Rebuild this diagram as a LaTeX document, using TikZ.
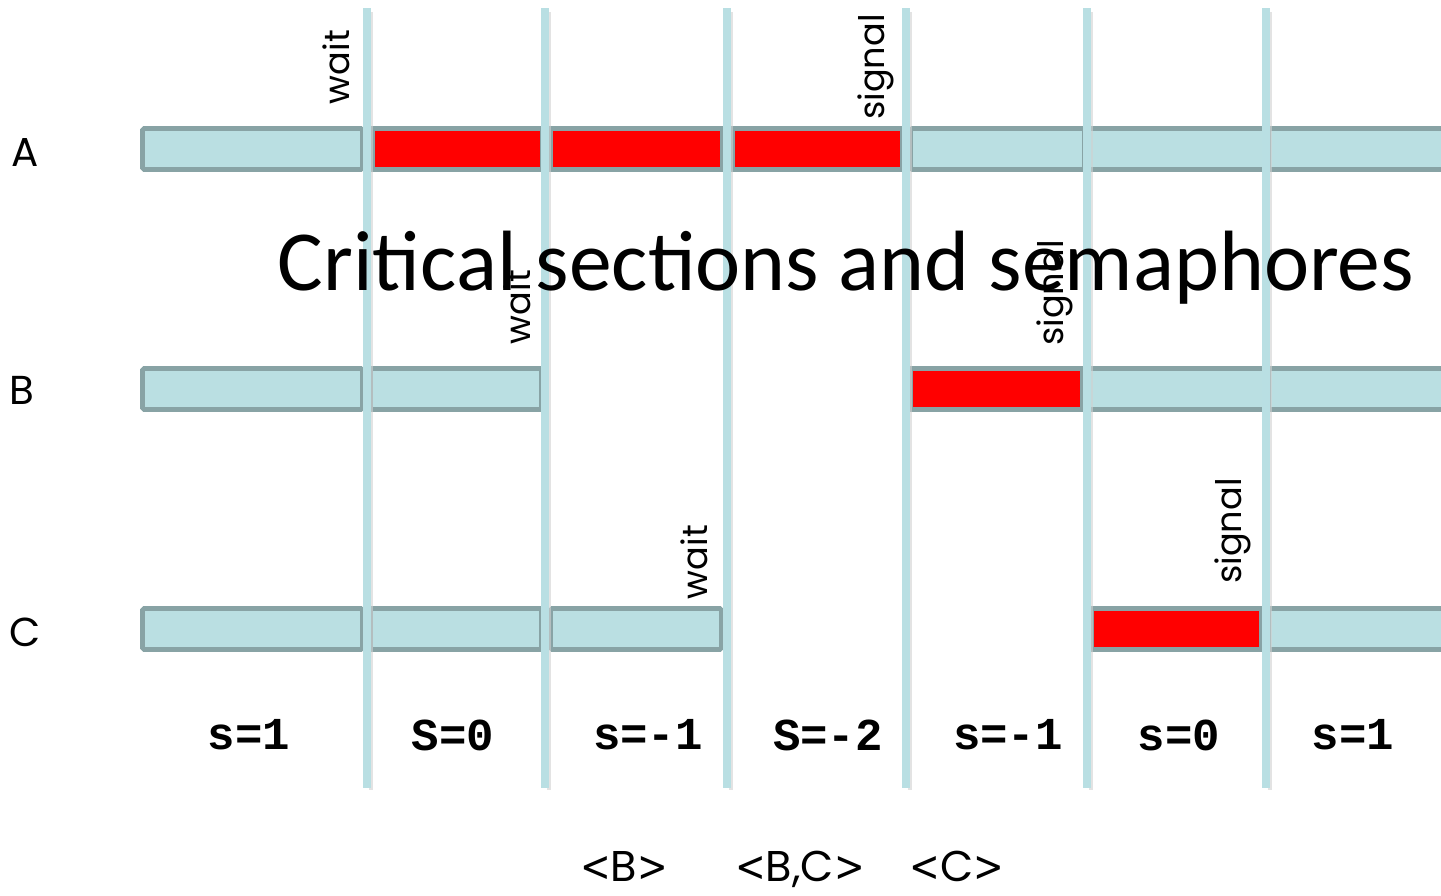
\documentclass[tikz,border=0pt]{standalone}
\usepackage{fontspec}
\setmainfont{Carlito}
\newfontfamily\geo{Poppins}
\newfontfamily\brk{DejaVu Sans}[FakeStretch=0.85]
\newfontfamily\mono{Liberation Mono}
\newcommand{\qlt}{{\brk<}}
\newcommand{\qgt}{{\brk>}}
\definecolor{laneblue}{HTML}{BADFE2}
\definecolor{laneedge}{HTML}{88A3A5}
\definecolor{critred}{HTML}{FF0000}
\definecolor{tickblue}{HTML}{B9DFE3}
\begin{document}
\begin{tikzpicture}[x=0.02cm,y=-0.02cm,
  idle/.style={fill=laneblue,draw=laneedge,line width=2.8pt,rounded corners=1pt},
  crit/.style={fill=critred,draw=laneedge,line width=2.8pt},
  tick/.style={draw=tickblue,line width=4.6pt},
  tickshadow/.style={draw=black!18,line width=2pt,opacity=0.6},
  rowlabel/.style={font=\geo\fontsize{23}{26}\selectfont},
  oplabel/.style={font=\geo\fontsize{20}{22}\selectfont,rotate=90},
  semlabel/.style={font=\mono\bfseries\fontsize{26}{30}\selectfont},
  queuelabel/.style={font=\geo\fontsize{24.5}{28}\selectfont,inner sep=0pt,anchor=base}]
\useasboundingbox (0,0) rectangle (1441,896);

% process A
\draw[idle] (142.5,128.5) rectangle (362.5,169.5);
\draw[crit] (372.5,128.5) rectangle (542.5,169.5);
\draw[crit] (550.5,128.5) rectangle (722.5,169.5);
\draw[crit] (732.5,128.5) rectangle (902.5,169.5);
\draw[idle] (910.5,128.5) rectangle (1084.5,169.5);
\draw[idle] (1088.5,128.5) rectangle (1266.5,169.5);
\draw[idle] (1268.5,128.5) rectangle (1460,169.5);

% process B
\draw[idle] (142.5,368.5) rectangle (362.5,409.5);
\draw[idle] (370.5,368.5) rectangle (541.5,409.5);
\draw[crit] (910.5,368.5) rectangle (1082.5,409.5);
\draw[idle] (1086.5,368.5) rectangle (1266.5,409.5);
\draw[idle] (1268.5,368.5) rectangle (1460,409.5);

% process C
\draw[idle] (142.5,608.5) rectangle (362.5,649.5);
\draw[idle] (370.5,608.5) rectangle (541.5,649.5);
\draw[idle] (550.5,608.5) rectangle (721.5,649.5);
\draw[crit] (1091.5,608.5) rectangle (1261.5,649.5);
\draw[idle] (1268.5,608.5) rectangle (1460,649.5);

% time ticks
\foreach \x/\n in {367/t1,545/t2,727/t3,906/t4,1087/t5,1266/t6}{
  \draw[tickshadow] (\x+4,12) -- (\x+4,790);
  \draw[tick] (\x,8) -- (\x,788);
  \coordinate (\n) at (\x,8);
}

% row labels
\node[rowlabel] (la) at (25,152) {A};
\node[rowlabel] (lb) at (22,390) {B};
\node[rowlabel] (lc) at (25,632) {C};

% wait / signal operations
\node[oplabel] (await) at (336,67) {wait};
\node[oplabel] (asig) at (876,67) {signal};
\node[oplabel] (bwait) at (517,307) {wait};
\node[oplabel] (bsig) at (1055,293) {signal};
\node[oplabel] (cwait) at (694,562) {wait};
\node[oplabel] (csig) at (1233,531) {signal};

% title
\node[font=\fontsize{48.7}{54}\selectfont] (title) at (846,268) {Critical sections and semaphores};

% semaphore values
\node[semlabel] (s1) at (249,735) {s=1};
\node[semlabel] (s2) at (453,735) {S=0};
\node[semlabel] (s3) at (648,735) {s=-1};
\node[semlabel] (s4) at (828,735) {S=-2};
\node[semlabel] (s5) at (1008,735) {s=-1};
\node[semlabel] (s6) at (1179,735) {s=0};
\node[semlabel] (s7) at (1353,735) {s=1};

% waiting queues
\node[queuelabel] (q1) at (624,881) {\qlt B\qgt};
\node[queuelabel] (q2) at (800,881) {\qlt B,C\qgt};
\node[queuelabel] (q3) at (957,881) {\qlt C\qgt};
\end{tikzpicture}
\end{document}
